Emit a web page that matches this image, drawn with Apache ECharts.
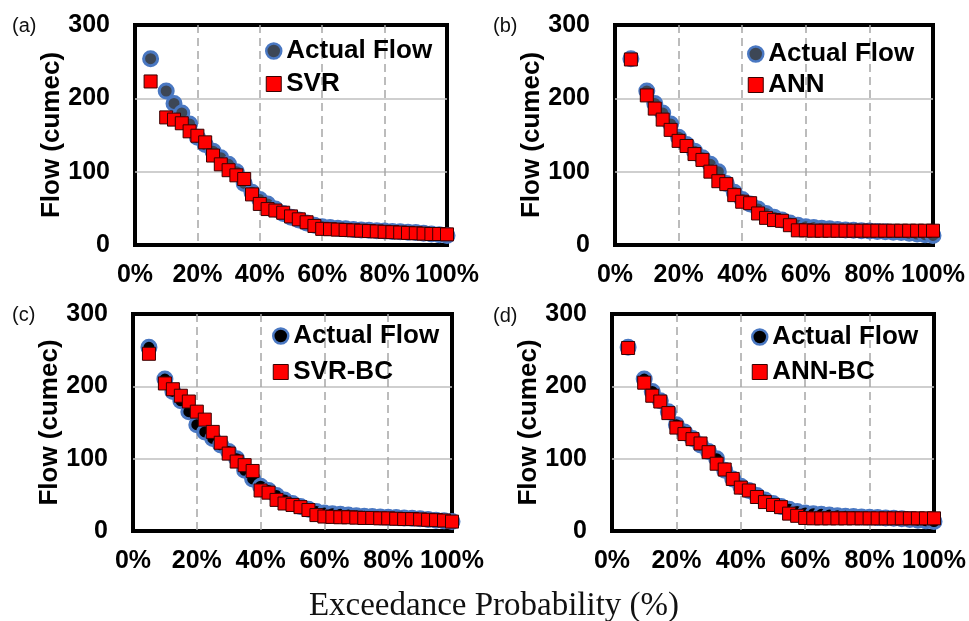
<!DOCTYPE html>
<html><head><meta charset="utf-8">
<script src="https://cdn.jsdelivr.net/npm/echarts@6/dist/echarts.min.js"></script>
<style>html,body{margin:0;padding:0;background:#fff}#c{width:969px;height:621px}</style>
</head><body><div id="c"></div>
<script>
// Exceedance probability (%) of each ranked flow
const probability = [5,10,12.5,15,17.5,20,22.5,25,27.5,30,32.5,35,37.5,40,42.5,45,47.5,50,52.5,55,57.5,60,62.5,65,67.5,70,72.5,75,77.5,80,82.5,85,87.5,90,92.5,95,97.5,100];
const actualFlow = [254,210,193,180,165,147,137,128,119,110,100,84,72,62,56,49,43,38,34,30,27,25,24,23,22,21,20.5,20,19.5,19,18.5,18,17.5,17,16,15,14,13];
const svrFlow    = [223,174,171,166,155,149,140,122,110,102,95,90,69,56,49,47,44,39,35,31,26,22,21.5,21,20.5,20,19.5,19,18.5,18,17.5,17,16.5,16,15.5,15,15,14.5];
const annFlow    = [253,204,186,171,157,142,135,124,116,100,87,83,68,59,57,43,37,34,33,27,20,20,19.5,19.5,19.5,19.5,19.5,19.5,19.5,19.5,19.5,19.5,19.5,19.5,19.5,19.5,19.5,19.5];
const svrBcFlow  = [245,204,196,187,179,165,154,137,122,107,96,91,83,56,53,43,38,36,33,29,22,20,19.5,19,19,18.5,18,18,17.5,17.5,17,16.5,16.5,16,15.5,15,14.5,13];
const annBcFlow  = [253,205,187,179,163,143,134,127,121,109,93,85,72,60,56,47,40,36,33,24,21,18,17.5,17.5,17.5,17.5,17.5,17.5,17.5,17.5,17.5,17.5,17.5,17.5,17.5,17.5,17.5,17.5];
const xTickStep = 20;
const yTickStep = 100;
const panelLabels = ['(a)','(b)','(c)','(d)'];
const actualName = 'Actual Flow';
const modelNames = ['SVR','ANN','SVR-BC','ANN-BC'];
const modelFlows = [svrFlow, annFlow, svrBcFlow, annBcFlow];
const xTitle = 'Exceedance Probability (%)';
const yTitle = 'Flow (cumec)';

const SANS = '"Liberation Sans", Arial, sans-serif';
const grids = [
  {left:135, top:25, width:312, height:220},
  {left:615, top:25, width:318, height:220},
  {left:133, top:314, width:319, height:217},
  {left:612, top:314, width:322, height:217}
];
const legendPos = [
  {left:265, top:38, itemGap:7},
  {left:747, top:41, itemGap:5},
  {left:272, top:323, itemGap:10},
  {left:751, top:324, itemGap:9}
];
const labelPos = [
  {left:12, top:16}, {left:493, top:16}, {left:12, top:305}, {left:493, top:306}
];
const actualFill = ['#3d4756','#3d4756','#000000','#000000'];
const ringColor = '#4a78c2';

const zip = (xs, ys) => xs.map((x, i) => [x, ys[i]]);

const option = {
  animation: false,
  backgroundColor: '#fff',
  grid: grids.map(g => Object.assign({show:true, borderColor:'#000', borderWidth:4, backgroundColor:'transparent'}, g)),
  xAxis: grids.map((g, i) => ({
    type:'value', gridIndex:i, min:0, max:100, interval:xTickStep,
    axisLine:{show:false}, axisTick:{show:false},
    axisLabel:{formatter:'{value}%', color:'#000', fontSize:25, fontWeight:'bold', fontFamily:SANS, margin:18},
    splitLine:{show:true, showMinLine:false, showMaxLine:false, lineStyle:{color:'#a6a6a6', width:1.5, type:[8,5]}}
  })),
  yAxis: grids.map((g, i) => ({
    type:'value', gridIndex:i, min:0, max:300, interval:yTickStep,
    name:yTitle, nameLocation:'middle', nameGap:68,
    nameTextStyle:{color:'#000', fontSize:26, fontWeight:'bold', fontFamily:SANS},
    axisLine:{show:false}, axisTick:{show:false},
    axisLabel:{color:'#000', fontSize:25, fontWeight:'bold', fontFamily:SANS, margin:25},
    splitLine:{show:true, showMinLine:false, showMaxLine:false, lineStyle:{color:'#bfbfbf', width:1.5}}
  })),
  title: panelLabels.map((t, i) => ({
    text:t, left:labelPos[i].left, top:labelPos[i].top, padding:0,
    textStyle:{fontSize:20, fontWeight:'normal', fontFamily:SANS, color:'#111'}
  })),
  legend: modelNames.map((m, i) => ({
    orient:'vertical', left:legendPos[i].left, top:legendPos[i].top, itemGap:legendPos[i].itemGap,
    padding:0, itemWidth:15, itemHeight:15, selectedMode:false,
    textStyle:{fontSize:26, fontWeight:'bold', fontFamily:SANS, color:'#000'},
    data:[
      {name:actualName, icon:'circle', itemStyle:{color:actualFill[i], borderColor:ringColor, borderWidth:2.5}},
      {name:m, icon:'rect', itemStyle:{color:'#ff0000', borderColor:'#3a0000', borderWidth:1}}
    ]
  })),
  graphic: [{
    type:'text', x:494, y:606,
    style:{text:xTitle, font:'33px "Liberation Serif", "Times New Roman", serif', fill:'#111', align:'center', verticalAlign:'middle', textAlign:'center', textVerticalAlign:'middle'}
  }],
  series: []
};

modelNames.forEach((m, i) => {
  option.series.push({
    type:'scatter', name:actualName, xAxisIndex:i, yAxisIndex:i, clip:false, z:2,
    data: zip(probability, actualFlow), symbol:'circle', symbolSize:14,
    itemStyle:{color:actualFill[i], borderColor:ringColor, borderWidth:3, opacity:1}
  });
  option.series.push({
    type:'scatter', name:m, xAxisIndex:i, yAxisIndex:i, clip:false, z:3,
    data: zip(probability, modelFlows[i]), symbol:'rect', symbolSize:13,
    itemStyle:{color:'#ff0000', borderColor:'#3a0000', borderWidth:1, opacity:1}
  });
});

const chart = echarts.init(document.getElementById('c'), null, {renderer:'canvas'});
chart.setOption(option);
</script>
</body></html>
